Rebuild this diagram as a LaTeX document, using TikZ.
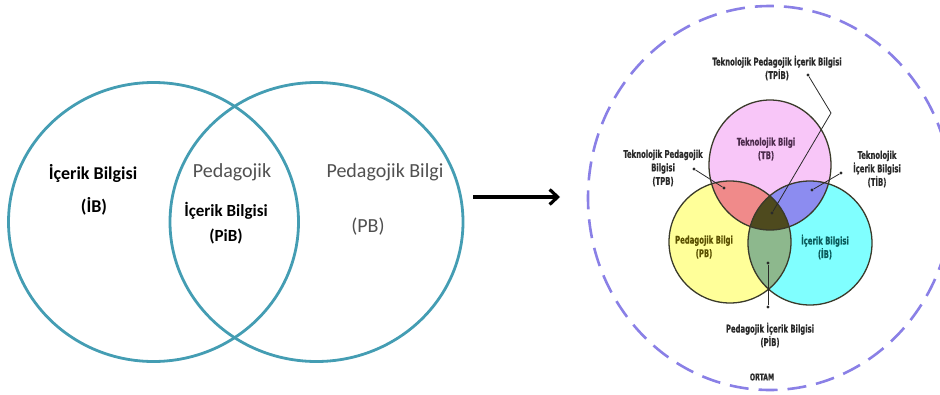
\documentclass[tikz,border=0pt]{standalone}
\usepackage{fontspec}
\setmainfont{Carlito}
\newfontfamily\cond{DejaVu Sans Condensed}[FakeStretch=0.72,BoldFeatures={FakeBold=0.6}]
\usetikzlibrary{arrows.meta}

\definecolor{vennblue}{HTML}{449DB3}
\definecolor{greytxt}{HTML}{505050}
\definecolor{ortam}{HTML}{8A80E6}
\definecolor{pinkc}{HTML}{F8C6F8}
\definecolor{yelc}{HTML}{FFFF99}
\definecolor{cyanc}{HTML}{80FFFF}
\definecolor{redc}{HTML}{F08A8A}
\definecolor{bluec}{HTML}{8C8CF0}
\definecolor{greenc}{HTML}{8DB88D}
\definecolor{darkc}{HTML}{4E4A1E}
\definecolor{rimc}{HTML}{3A3A2A}
\definecolor{leadc}{HTML}{2A2A2A}
\definecolor{tbtxt}{HTML}{4B2A4B}
\definecolor{pbtxt}{HTML}{5A5000}
\definecolor{ibtxt}{HTML}{0A5A5A}

\begin{document}
\begin{tikzpicture}[x=1pt,y=-1pt,
  venn/.style={draw=vennblue, line width=2.8pt},
  blacktxt/.style={font=\fontsize{18}{20}\selectfont\bfseries, text=black},
  greylbl/.style={font=\fontsize{20}{22}\selectfont, text=greytxt},
  lbl/.style={font=\cond\bfseries\fontsize{10.6}{13.5}\selectfont, text=leadc, align=center, inner sep=0pt},
  lead/.style={draw=leadc, line width=0.8pt},
  dotm/.style={circle, fill=leadc, inner sep=0pt, minimum size=3.2pt},
  rim/.style={draw=rimc, line width=1.3pt}]
\useasboundingbox (0,0) rectangle (940,394);

% ---- two-set diagram ----
\draw[venn] (153.5,222) ellipse [x radius=145pt, y radius=139.5pt];
\draw[venn] (316.5,222) ellipse [x radius=146.5pt, y radius=139.5pt];

\node[blacktxt] (ib)   at (93,173)  {İçerik Bilgisi};
\node[blacktxt] (ibk)  at (94,206)  {(İB)};
\node[greylbl]  (ped)  at (232,172) {Pedagojik};
\node[blacktxt, font=\fontsize{17}{19}\selectfont\bfseries] (pib) at (226,211) {İçerik Bilgisi};
\node[blacktxt, font=\fontsize{17}{19}\selectfont\bfseries] (pibk) at (226,236) {(PiB)};
\node[greylbl]  (pb)   at (385,172) {Pedagojik Bilgi};
\node[greylbl]  (pbk)  at (368,227) {(PB)};

% ---- arrow ----
\coordinate (arrA) at (473,197);
\coordinate (arrB) at (560,197);
\draw[line width=3.6pt, -{Straight Barb[length=8pt,width=15pt,line width=3.2pt]}] (arrA) -- (arrB);

% ---- environment ----
\draw[ortam, line width=2.6pt, dash pattern=on 19pt off 10pt] (770,198) ellipse [x radius=182pt, y radius=192pt];

% ---- three-set diagram ----
\def\tset{(770,165) ellipse [x radius=61pt, y radius=65pt]}
\def\pset{(730,242) circle [radius=61pt]}
\def\cset{(810,243) circle [radius=62pt]}
\fill[pinkc] \tset;
\fill[yelc] \pset;
\fill[cyanc] \cset;
\begin{scope}\clip \tset; \fill[redc] \pset; \end{scope}
\begin{scope}\clip \tset; \fill[bluec] \cset; \end{scope}
\begin{scope}\clip \pset; \fill[greenc] \cset; \end{scope}
\begin{scope}\clip \tset; \clip \pset; \fill[darkc] \cset; \end{scope}
\draw[rim] \tset;
\draw[rim] \pset;
\draw[rim] \cset;

\node[lbl, text=tbtxt] (tb) at (766,149) {Teknolojik Bilgi\\(TB)};
\node[lbl, text=pbtxt] (pbr) at (704,247) {Pedagojik Bilgi\\(PB)};
\node[lbl, text=ibtxt] (ibr) at (825,247) {İçerik Bilgisi\\(İB)};

\node[lbl] (tpib) at (777,68)  {Teknolojik Pedagojik İçerik Bilgisi\\(TPİB)};
\node[lbl] (tpb)  at (663,168) {Teknolojik Pedagojik\\Bilgisi\\(TPB)};
\node[lbl] (tib)  at (877,169) {Teknolojik\\İçerik Bilgisi\\(TİB)};
\node[lbl] (pibr) at (770,335) {Pedagojik İçerik Bilgisi\\(PİB)};
\node[lbl, font=\cond\bfseries\fontsize{9.5}{11}\selectfont] (ortamlbl) at (762,377) {ORTAM};

% leader lines
\node[dotm] (d1a) at (808,75) {};
\coordinate (d1b) at (831,113);
\node[dotm] (d1c) at (772,213) {};
\draw[lead] (d1a) -- (d1b) -- (d1c);

\node[dotm] (d2a) at (694,169) {};
\node[dotm] (d2b) at (724,188) {};
\draw[lead] (d2a) -- (d2b);

\node[dotm] (d3a) at (841,173) {};
\node[dotm] (d3b) at (812,190) {};
\draw[lead] (d3a) -- (d3b);

\node[dotm] (d4a) at (768,263) {};
\node[dotm] (d4b) at (768,307) {};
\draw[lead] (d4a) -- (d4b);
\end{tikzpicture}
\end{document}
